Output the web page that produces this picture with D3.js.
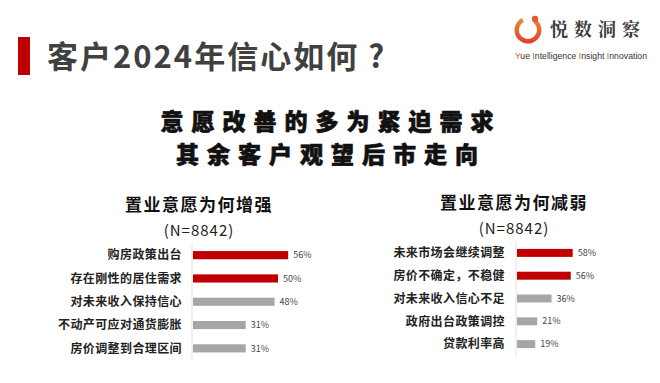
<!DOCTYPE html>
<html>
<head>
<meta charset="utf-8">
<script src="https://cdn.jsdelivr.net/npm/d3@7"></script>
<style>
  body { margin: 0; background: #fff; }
  text { font-family: "Noto Sans CJK SC", "Noto Sans", sans-serif; }
</style>
</head>
<body>
<svg id="chart" width="660" height="383"></svg>
<script>
// data
const upCategories = ['购房政策出台', '存在刚性的居住需求', '对未来收入保持信心', '不动产可应对通货膨胀', '房价调整到合理区间'];
const upValues = [56, 50, 48, 31, 31];
const downCategories = ['未来市场会继续调整', '房价不确定，不稳健', '对未来收入信心不足', '政府出台政策调控', '贷款利率高'];
const downValues = [58, 56, 36, 21, 19];
const highlightCount = 2;

const svg = d3.select('#chart');
const RED = '#c00000';
const GRAY = '#a6a6a6';

// header
svg.append('rect')
  .attr('x', 18).attr('y', 37).attr('width', 12).attr('height', 38)
  .attr('fill', RED);

svg.append('text')
  .attr('x', 47).attr('y', 68)
  .style('font-size', '31px')
  .style('font-weight', 700)
  .style('letter-spacing', '2px')
  .attr('fill', '#404040')
  .text('客户2024年信心如何 ?');

// logo
const logo = svg.append('g');
const grad = svg.append('defs').append('linearGradient')
  .attr('id', 'ring').attr('x1', 0).attr('y1', 0).attr('x2', 0).attr('y2', 1);
grad.append('stop').attr('offset', '0%').attr('stop-color', '#f08a3c');
grad.append('stop').attr('offset', '100%').attr('stop-color', '#e0402a');
const ringArc = d3.arc().innerRadius(9).outerRadius(13.5)
  .startAngle(Math.PI * 0.2).endAngle(Math.PI * 1.85);
logo.append('path')
  .attr('transform', 'translate(528,30)')
  .attr('d', ringArc())
  .attr('fill', 'url(#ring)');
logo.append('circle')
  .attr('cx', 535).attr('cy', 19).attr('r', 3.2)
  .attr('fill', '#e8582c');
logo.append('text')
  .attr('x', 550).attr('y', 36)
  .style('font-family', '"Noto Serif CJK SC", "Noto Sans CJK SC", serif')
  .style('font-size', '18px')
  .style('font-weight', 700)
  .style('letter-spacing', '6px')
  .attr('fill', '#3a3a3a')
  .text('悦数洞察');

const tag = logo.append('text')
  .attr('x', 515).attr('y', 59)
  .attr('textLength', 132)
  .attr('lengthAdjust', 'spacingAndGlyphs')
  .style('font-family', '"Liberation Sans Narrow", "Liberation Sans", sans-serif')
  .style('font-size', '8.5px');
['Yue ', 'Intelligence ', 'Insight ', 'Innovation'].forEach((w) => {
  tag.append('tspan').attr('fill', '#e05a2a').text(w[0]);
  tag.append('tspan').attr('fill', '#333').text(w.slice(1));
});

// subtitle
const subtitle = ['意愿改善的多为紧迫需求', '其余客户观望后市走向'];
svg.selectAll('.sub')
  .data(subtitle)
  .join('text')
  .attr('class', 'sub')
  .attr('x', 331)
  .attr('y', (d, i) => 130 + i * 33)
  .attr('text-anchor', 'middle')
  .style('font-size', '23px')
  .style('font-weight', 900)
  .style('letter-spacing', '8px')
  .attr('fill', '#111')
  .attr('stroke', '#111')
  .attr('stroke-width', 0.7)
  .text((d) => d);

function makePanel(opts) {
  const {
    cats, vals, axisX, pxPer100, top, bottom, title, titleX, titleY, labelEnd,
  } = opts;
  const g = svg.append('g');

  const x = d3.scaleLinear().domain([0, 100]).range([axisX, axisX + pxPer100]);
  const y = d3.scaleBand().domain(cats).range([top, bottom])
    .paddingInner(0.65).paddingOuter(0.325);

  g.append('text')
    .attr('x', titleX).attr('y', titleY)
    .attr('text-anchor', 'middle')
    .style('font-size', '17px')
    .style('font-weight', 700)
    .style('letter-spacing', '1.5px')
    .attr('fill', '#111')
    .text(title);

  g.append('text')
    .attr('x', titleX).attr('y', titleY + 25)
    .attr('text-anchor', 'middle')
    .style('font-size', '15px')
    .style('letter-spacing', '1px')
    .attr('fill', '#222')
    .text('(N=8842)');

  g.append('line')
    .attr('x1', axisX).attr('x2', axisX)
    .attr('y1', top).attr('y2', bottom)
    .attr('stroke', '#e2e2e2').attr('stroke-width', 1);

  g.selectAll('.bar')
    .data(vals)
    .join('rect')
    .attr('x', x(0) + 1)
    .attr('y', (d, i) => y(cats[i]))
    .attr('width', (d) => x(d) - x(0))
    .attr('height', y.bandwidth())
    .attr('fill', (d, i) => (i < highlightCount ? RED : GRAY));

  g.selectAll('.val')
    .data(vals)
    .join('text')
    .attr('x', (d) => x(d) + 6)
    .attr('y', (d, i) => y(cats[i]) + y.bandwidth() / 2)
    .attr('dy', '0.35em')
    .style('font-size', '9px')
    .attr('fill', '#444')
    .text((d) => `${d}%`);

  g.selectAll('.cat')
    .data(cats)
    .join('text')
    .attr('x', labelEnd)
    .attr('y', (d) => y(d) + y.bandwidth() / 2)
    .attr('dy', '0.35em')
    .attr('text-anchor', 'end')
    .style('font-size', '12px')
    .style('font-weight', 700)
    .style('letter-spacing', '0.4px')
    .attr('fill', '#222')
    .text((d) => d);
}

makePanel({
  cats: upCategories,
  vals: upValues,
  axisX: 192,
  pxPer100: 170,
  top: 243.5,
  bottom: 360,
  title: '置业意愿为何增强',
  titleX: 199,
  titleY: 211,
  labelEnd: 182,
});

makePanel({
  cats: downCategories,
  vals: downValues,
  axisX: 516,
  pxPer100: 96,
  top: 241.5,
  bottom: 355.5,
  title: '置业意愿为何减弱',
  titleX: 514,
  titleY: 209,
  labelEnd: 505,
});
</script>
</body>
</html>
